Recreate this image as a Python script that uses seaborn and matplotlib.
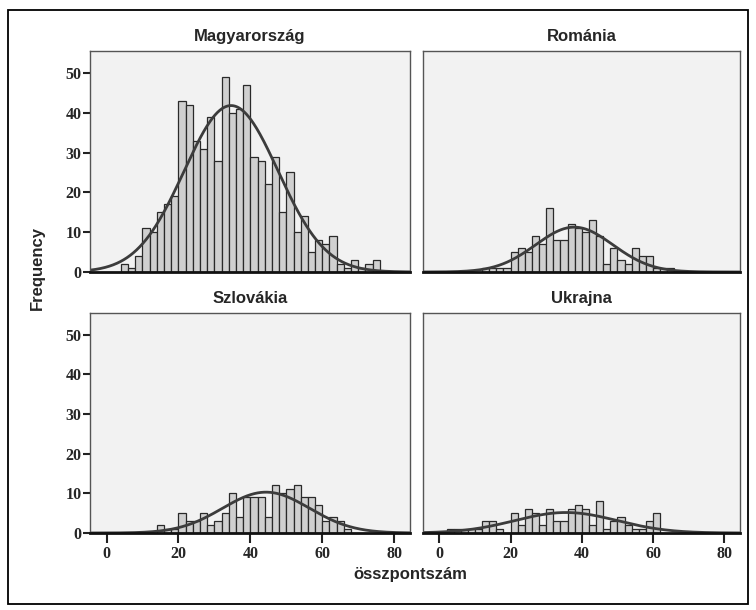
import numpy as np
import pandas as pd
import matplotlib
matplotlib.use("Agg")
import matplotlib.pyplot as plt
from matplotlib.patches import Rectangle
import seaborn as sns

# Score histograms (bin width 2) per country
countries = ["Magyarország", "Románia", "Szlovákia", "Ukrajna"]
bin_width = 2

hu_start = 4
hu_counts = [2, 1, 4, 11, 10, 15, 17, 19, 43, 42, 33, 31, 39, 28, 49, 40, 41, 47,
             29, 28, 22, 29, 15, 25, 10, 14, 5, 8, 7, 9, 2, 1, 3, 1, 2, 3]

ro_start = 12
ro_counts = [1, 1, 1, 1, 5, 6, 5, 9, 7, 16, 8, 8, 12, 11, 10, 13, 9, 2, 6, 3,
             2, 6, 4, 4, 1, 1, 1]

sk_start = 14
sk_counts = [2, 1, 1, 5, 3, 3, 5, 2, 3, 5, 10, 4, 9, 9, 9, 4, 12, 10, 11, 12,
             9, 9, 7, 3, 4, 3, 1]

ua_start = 2
ua_counts = [1, 1, 1, 1, 1, 3, 3, 1, 0, 5, 2, 6, 5, 2, 6, 3, 3, 6, 7, 6, 2, 8,
             1, 3, 4, 2, 1, 1, 3, 5]

x_ticks = [0, 20, 40, 60, 80]
y_ticks = [0, 10, 20, 30, 40, 50]
x_label = "összpontszám"
y_label = "Frequency"

starts = [hu_start, ro_start, sk_start, ua_start]
counts = [hu_counts, ro_counts, sk_counts, ua_counts]

sns.set_theme(style="white")
plt.rcParams["font.family"] = ["Liberation Sans", "DejaVu Sans"]

W, H = 756, 610
fig = plt.figure(figsize=(W / 100, H / 100), dpi=100)
fig.patch.set_facecolor("white")

# outer frame
fig.add_artist(Rectangle((8 / W, 1 - 604 / H), 740 / W, 594 / H,
                         transform=fig.transFigure, fill=False,
                         edgecolor="black", linewidth=1.3))

# panel boxes in pixels: left, top, right, bottom
boxes = [(90, 51, 410, 272), (423, 51, 740, 272),
         (90, 313, 410, 533), (423, 313, 740, 533)]

xlim = (-4.6, 84.4)
ylim = (0, 55.5)
serif = dict(family="Liberation Serif", weight="bold", size=11.5)

for i, (name, st, cnt, box) in enumerate(zip(countries, starts, counts, boxes)):
    l, t, r, b = box
    ax = fig.add_axes([l / W, 1 - b / H, (r - l) / W, (b - t) / H])
    ax.set_facecolor("#f2f2f2")

    centers = st + bin_width * np.arange(len(cnt)) + bin_width / 2
    df = pd.DataFrame({"score": centers, "n": cnt})
    sns.histplot(data=df, x="score", weights="n", binwidth=bin_width,
                 binrange=(st, st + bin_width * len(cnt)), ax=ax,
                 color="#d0d0d0", edgecolor="#2a2a2a", linewidth=0.9,
                 alpha=1.0)

    # fitted normal curve scaled to counts
    c = np.asarray(cnt, float)
    n = c.sum()
    mu = (centers * c).sum() / n
    sd = np.sqrt(((centers - mu) ** 2 * c).sum() / (n - 1))
    xs = np.linspace(xlim[0], xlim[1], 400)
    ys = n * bin_width / (sd * np.sqrt(2 * np.pi)) * np.exp(-0.5 * ((xs - mu) / sd) ** 2)
    ax.plot(xs, ys, color="#3c3c3c", linewidth=2.0)

    ax.set_xlim(*xlim)
    ax.set_ylim(*ylim)
    ax.set_xlabel("")
    ax.set_ylabel("")
    ax.set_title(name, fontsize=12, fontweight="bold", pad=7,
                 family=["Liberation Sans", "DejaVu Sans"])

    for side in ["left", "right", "top"]:
        ax.spines[side].set_color("#555555")
        ax.spines[side].set_linewidth(1.0)
    ax.spines["bottom"].set_color("#111111")
    ax.spines["bottom"].set_linewidth(2.0)

    if i % 2 == 0:
        ax.set_yticks(y_ticks)
        ax.set_yticklabels([str(v) for v in y_ticks], fontdict=serif)
        ax.tick_params(axis="y", left=True, length=5, width=1.5, pad=1,
                       color="#222222")
    else:
        ax.set_yticks([])
    if i >= 2:
        ax.set_xticks(x_ticks)
        ax.set_xticklabels([str(v) for v in x_ticks], fontdict=serif)
        ax.tick_params(axis="x", bottom=True, length=7, width=1.5, pad=2,
                       color="#222222")
    else:
        ax.set_xticks([])

fig.text(37 / W, 1 - 268 / H, y_label, rotation=90, ha="center", va="center",
         fontsize=12, fontweight="bold")
fig.text(410 / W, 1 - 574 / H, x_label, ha="center", va="center",
         fontsize=12, fontweight="bold")

fig.savefig("out.png", dpi=100, facecolor="white")
